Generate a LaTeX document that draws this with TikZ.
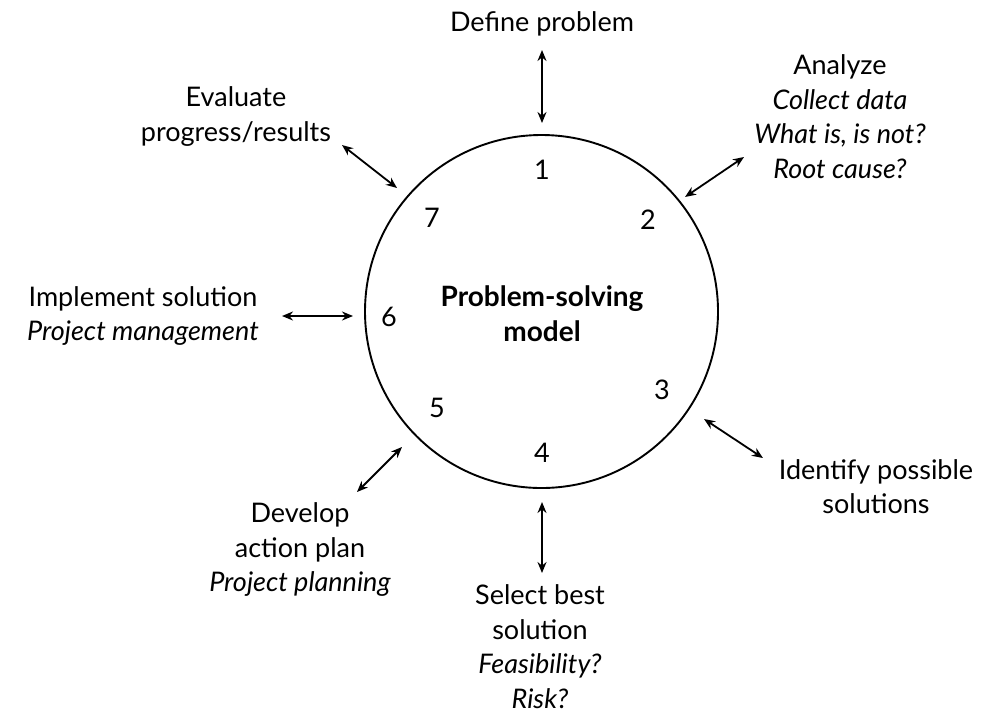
\documentclass[tikz,border=0pt]{standalone}
\usepackage{fontspec}
\setmainfont{Lato}
\usetikzlibrary{arrows.meta}
\begin{document}
\begin{tikzpicture}[x=1pt,y=-1pt,
  txt/.style={font=\fontsize{27}{34.5}\selectfont, align=center, inner sep=0pt},
  num/.style={font=\fontsize{27}{30}\selectfont, inner sep=0pt},
  link/.style={line width=1.8pt, {Stealth[length=11pt,width=9pt]}-{Stealth[length=11pt,width=9pt]}},
]
\useasboundingbox (0,0) rectangle (984,713);

% central cycle
\node[draw, circle, line width=1.9pt, minimum size=353pt, inner sep=0pt] (model) at (541.5,311.5) {};
\node[txt, font=\bfseries\fontsize{28}{35}\selectfont] (title) at (542,313.5) {Problem-solving\\model};

% step numbers around the circle
\node[num] (n1) at (542,170) {1};
\node[num] (n2) at (648,220) {2};
\node[num] (n3) at (662,390) {3};
\node[num] (n4) at (542,453) {4};
\node[num] (n5) at (437,408) {5};
\node[num] (n6) at (389,317) {6};
\node[num] (n7) at (432,218) {7};

% step descriptions
\node[txt] (define) at (542,24) {Define problem};
\node[txt] (analyze) at (840,116.5) {Analyze\\\textit{Collect data}\\\textit{What is, is not?}\\\textit{Root cause?}};
\node[txt] (identify) at (876,486.5) {Identify possible\\solutions};
\node[txt] (select) at (540,646.5) {Select best\\solution\\\textit{Feasibility?}\\\textit{Risk?}};
\node[txt] (develop) at (300,549.5) {Develop\\action plan\\\textit{Project planning}};
\node[txt] (implement) at (143,316) {Implement solution\\\textit{Project management}};
\node[txt] (evaluate) at (236,116.5) {Evaluate\\progress/results};

% connector end points
\coordinate (a1o) at (542,50);  \coordinate (a1i) at (542,123);
\coordinate (a2o) at (744,157); \coordinate (a2i) at (685,197);
\coordinate (a3o) at (763,458); \coordinate (a3i) at (704,419);
\coordinate (a4o) at (542,573); \coordinate (a4i) at (542,502);
\coordinate (a5o) at (357,492); \coordinate (a5i) at (402,447);
\coordinate (a6o) at (282,316); \coordinate (a6i) at (353,316);
\coordinate (a7o) at (342,145); \coordinate (a7i) at (397,188);

\foreach \k in {1,...,7} {
  \draw[link] (a\k o) -- (a\k i);
}
\end{tikzpicture}
\end{document}
